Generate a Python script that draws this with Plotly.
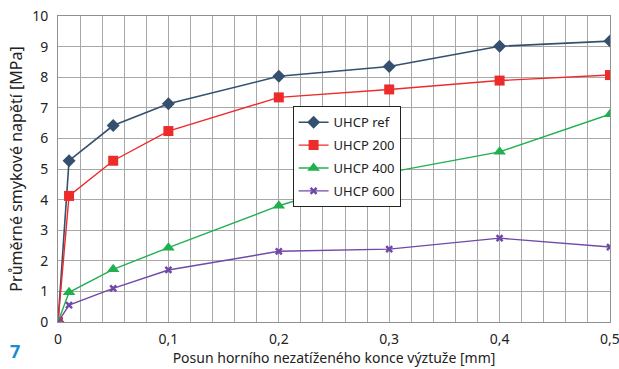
import plotly.graph_objects as go

x_vals = [0, 0.01, 0.05, 0.1, 0.2, 0.3, 0.4, 0.5]
ref = [0, 5.27, 6.42, 7.13, 8.03, 8.35, 9.01, 9.18]
uhcp200 = [0, 4.12, 5.27, 6.24, 7.34, 7.60, 7.89, 8.07]
uhcp400 = [0, 0.97, 1.72, 2.43, 3.80, 4.89, 5.56, 6.79]
uhcp600 = [0, 0.55, 1.10, 1.70, 2.31, 2.38, 2.74, 2.45]
names = ["UHCP ref", "UHCP 200", "UHCP 400", "UHCP 600"]
x_ticks = [0, 0.1, 0.2, 0.3, 0.4, 0.5]
x_tick_text = ["0", "0,1", "0,2", "0,3", "0,4", "0,5"]

styles = [
    ("#34506e", "diamond", 10, 1.6),
    ("#ee2b2b", "square", 10, 1.4),
    ("#20b050", "triangle-up", 11, 1.4),
    ("#7048a8", "x-thin-open", 6, 1.4),
]

fig = go.Figure()
for i, (name, ys, (col, sym, sz, lw)) in enumerate(zip(names, [ref, uhcp200, uhcp400, uhcp600], styles)):
    marker = dict(symbol=sym, size=sz, color=col)
    if sym == "x-thin-open":
        marker["line"] = dict(color=col, width=2.5)
    fig.add_trace(go.Scatter(x=x_vals, y=ys, name=name, mode="lines+markers", legendgroup=f"g{i}",
                             line=dict(color=col, width=lw), marker=marker))

font = "Noto Sans, Open Sans, sans-serif"
fig.update_layout(
    width=619, height=369,
    margin=dict(l=58, r=9, t=16, b=47),
    plot_bgcolor="white", paper_bgcolor="white",
    font=dict(family=font, size=14, color="#222222"),
    showlegend=True,
    legend=dict(x=0.425, y=0.705, xanchor="left", yanchor="top",
                bgcolor="white", bordercolor="#222222", borderwidth=1,
                font=dict(size=13), tracegroupgap=3, itemwidth=30),
    xaxis=dict(range=[0, 0.5], tickvals=x_ticks, ticktext=x_tick_text, automargin=False,
               ticklabeloverflow="allow",
               showgrid=True, gridcolor="#a8a8a8", gridwidth=1,
               minor=dict(dtick=0.02, showgrid=True, gridcolor="#a8a8a8", gridwidth=1),
               zeroline=False, showline=True, linecolor="#909090", mirror=True,
               ticks="", ticklabelstandoff=4,
               title=dict(text="Posun horního nezatíženého konce výztuže [mm]",
                          font=dict(size=14), standoff=4)),
    yaxis=dict(range=[0, 10], dtick=1, showgrid=True, gridcolor="#a8a8a8", gridwidth=1,
               automargin=False, ticklabeloverflow="allow",
               zeroline=False, showline=True, linecolor="#909090", mirror=True,
               ticks="", ticklabelstandoff=6,
               title=dict(text="Průměrné smykové napětí [MPa]", font=dict(size=16), standoff=5)),
)
fig.add_annotation(text="<b>7</b>", showarrow=False, xref="paper", yref="paper",
                   x=(15 - 58) / 552, y=(369 - 47 - 351) / 306,
                   xanchor="center", yanchor="middle",
                   font=dict(size=18, color="#1a8cd0", family=font))
fig.write_html("out.html")
